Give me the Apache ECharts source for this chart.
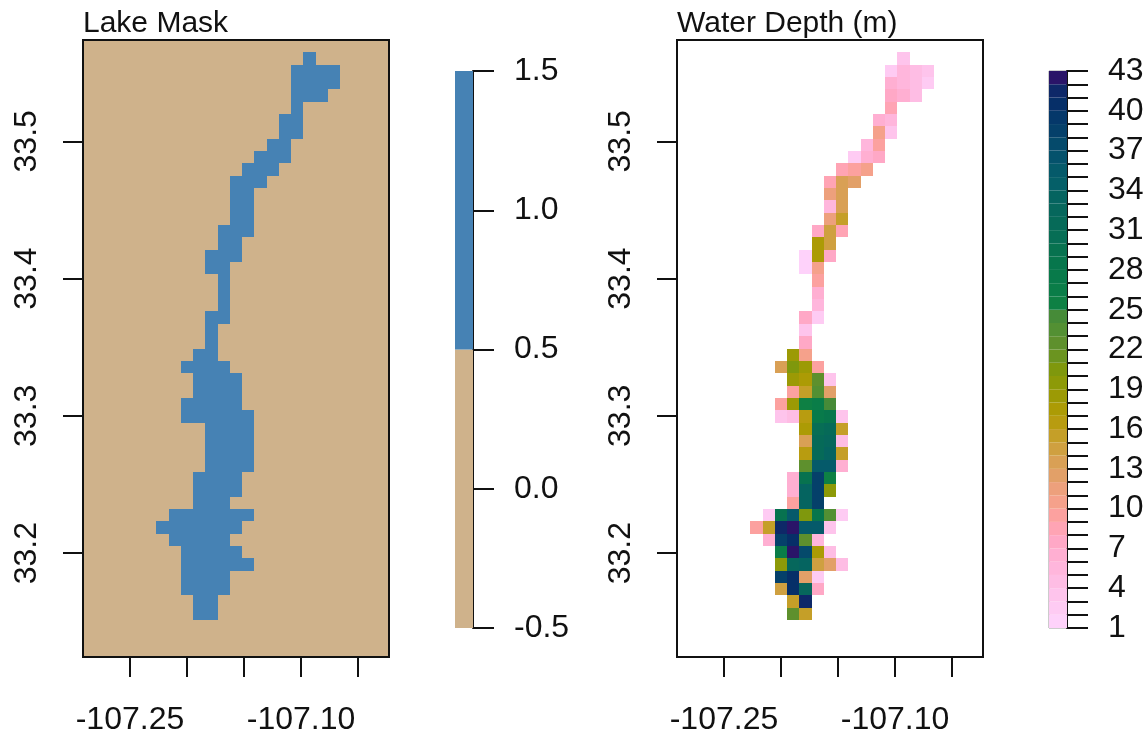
<!DOCTYPE html>
<html>
<head>
<meta charset="utf-8">
<title>Lake Mask / Water Depth</title>
<script src="https://cdn.jsdelivr.net/npm/echarts@6/dist/echarts.min.js"></script>
<style>
  html, body { margin: 0; padding: 0; background: #fff; }
  #chart { width: 1148px; height: 736px; }
</style>
</head>
<body>
<div id="chart"></div>
<script>
  // raster layout, 25 columns x 50 rows, row 0 is the north edge
  const nCols = 25
  const nRows = 50
  const lonMin = -107.2912
  const lonMax = -107.0228
  const latMin = 33.1243
  const latMax = 33.5738

  const lonTicks = [-107.25, -107.20, -107.15, -107.10, -107.05]
  const lonLabels = [-107.25, -107.10]
  const latTicks = [33.2, 33.3, 33.4, 33.5]

  // first lake column of each row, null = no lake in that row
  const firstCol = [
    null, 18, 17, 17, 17, 17, 16, 16, 15, 14,
    13, 12, 12, 12, 12, 11, 11, 10, 10, 11,
    11, 11, 10, 10, 10, 9, 8, 9, 9, 8,
    8, 10, 10, 10, 10, 9, 9, 9, 7, 6,
    7, 8, 8, 8, 8, 9, 9, null, null, null
  ]

  // water depth (m) of each row
  const depthRows = [
    [], [3], [2, 5, 4, 3], [6, 5, 4, 2], [7, 6, 4], [8], [6, 5], [10, 3], [5, 9], [2, 6, 7],
    [8, 9, 10], [8, 13, 12], [11, 13], [5, 13], [11, 15], [7, 14, 8], [17, 14], [1, 17, 7], [1, 10], [9],
    [6], [5], [7, 2], [3], [7], [18, 10], [13, 20, 18, 9], [18, 17, 22, 3], [9, 15, 23, 12], [9, 18, 25, 26, 24],
    [3, 4, 16, 27, 28, 3], [17, 30, 31, 15], [13, 31, 32, 4], [16, 31, 33, 15], [22, 35, 35, 6], [6, 29, 38, 25], [6, 33, 38, 19], [9, 33, 38], [2, 29, 35, 20, 28, 23, 2], [9, 15, 41, 42, 35, 35, 3],
    [6, 38, 40, 22, 5], [26, 42, 37, 17, 4], [19, 32, 33, 14, 12, 4], [38, 40, 12, 2], [14, 40, 32, 7], [15, 41], [22, 15], [], [], []
  ]

  // colours of the depth key, one per level from 1-2 up to 42-43
  const depthColors = [
    '#fed2fa', '#fecbf3', '#fec4ec', '#febde4', '#ffb6dc', '#ffafd2', '#ffa8c6', '#ffa4b4', '#fca19f', '#f5a18b',
    '#eda07c', '#e2a068', '#d9a055', '#cfa040', '#c59f28', '#b89c10', '#ac9b05', '#9c9a05', '#8d9a08', '#7f980d',
    '#6b9420', '#5e902d', '#539033', '#468b38', '#0e8044', '#0a7d48', '#087a4a', '#07764c', '#07724f', '#076e55',
    '#066a58', '#06675c', '#056460', '#055f68', '#055a6a', '#05526c', '#054a6b', '#05406a', '#05386a', '#062f68',
    '#0e2868', '#2a1468'
  ]
  const maskColors = ['#cfb28b', '#4682b4']
  const maskLevels = [-0.5, 0.5, 1.5]
  const depthMin = 1
  const depthMax = 43

  const fontName = 'Liberation Sans'
  const lonStep = (lonMax - lonMin) / nCols
  const latStep = (latMax - latMin) / nRows

  const depthAt = (row, col) => {
    const start = firstCol[row]
    if (start === null) return null
    const v = depthRows[row][col - start]
    return v === undefined ? null : v
  }

  // build [lon, lat, value] lists
  const maskData = []
  const depthData = []
  for (let r = 0; r < nRows; r++) {
    for (let c = 0; c < nCols; c++) {
      const lon = lonMin + (c + 0.5) * lonStep
      const lat = latMax - (r + 0.5) * latStep
      const d = depthAt(r, c)
      maskData.push([lon, lat, d === null ? 0 : 1])
      if (d !== null) depthData.push([lon, lat, d])
    }
  }

  const renderCell = (colorOf) => (params, api) => {
    const x = api.value(0)
    const y = api.value(1)
    const a = api.coord([x - lonStep / 2, y + latStep / 2])
    const b = api.coord([x + lonStep / 2, y - latStep / 2])
    const left = Math.round(a[0])
    const top = Math.round(a[1])
    return {
      type: 'rect',
      shape: { x: left, y: top, width: Math.round(b[0]) - left, height: Math.round(b[1]) - top },
      style: { fill: colorOf(api.value(2)) }
    }
  }

  const renderKey = (params, api) => {
    const a = api.coord([0, api.value(1)])
    const b = api.coord([1, api.value(0)])
    return {
      type: 'rect',
      shape: { x: a[0], y: a[1], width: b[0] - a[0], height: b[1] - a[1] },
      style: { fill: api.value(2) }
    }
  }

  const mapXAxis = (gridIndex) => ({
    type: 'value',
    gridIndex,
    min: lonMin,
    max: lonMax,
    splitLine: { show: false },
    axisLine: { show: false, onZero: false },
    axisTick: { length: 20, lineStyle: { color: '#111', width: 2 }, customValues: lonTicks },
    axisLabel: {
      customValues: lonLabels,
      margin: 47,
      fontFamily: fontName,
      fontSize: 32,
      color: '#111',
      formatter: (v) => v.toFixed(2)
    }
  })

  const mapYAxis = (gridIndex) => ({
    type: 'value',
    gridIndex,
    min: latMin,
    max: latMax,
    splitLine: { show: false },
    axisLine: { show: false, onZero: false },
    axisTick: { length: 20, lineStyle: { color: '#111', width: 2 }, customValues: latTicks },
    axisLabel: {
      customValues: latTicks,
      rotate: 90,
      margin: 40,
      fontFamily: fontName,
      fontSize: 32,
      color: '#111',
      formatter: (v) => v.toFixed(1)
    }
  })

  const keyXAxis = (gridIndex) => ({
    type: 'value',
    gridIndex,
    min: 0,
    max: 1,
    show: false
  })

  const keyYAxis = (gridIndex, min, max, interval, minor) => ({
    type: 'value',
    gridIndex,
    position: 'right',
    min,
    max,
    interval,
    splitLine: { show: false },
    minorSplitLine: { show: false },
    axisLine: { show: true, onZero: false, lineStyle: { color: '#111', width: 2 } },
    axisTick: { length: 21, lineStyle: { color: '#111', width: 2 } },
    minorTick: { show: minor > 0, splitNumber: minor || 5, length: 21, lineStyle: { color: '#111', width: 2 } },
    axisLabel: {
      margin: 41,
      fontFamily: fontName,
      fontSize: 32,
      color: '#111',
      showMinLabel: true,
      showMaxLabel: true,
      formatter: (v) => (minor > 0 ? String(v) : v.toFixed(1))
    }
  })

  const maskKeyData = maskColors.map((color, i) => [maskLevels[i], maskLevels[i + 1], color])
  const depthKeyData = depthColors.map((color, i) => [depthMin + i, depthMin + i + 1, color])

  const chart = echarts.init(document.getElementById('chart'), null, { renderer: 'canvas' })
  chart.setOption({
    animation: false,
    backgroundColor: '#fff',
    textStyle: { fontFamily: fontName },
    title: [
      { text: 'Lake Mask', left: 83, top: 9, padding: 0, textStyle: { fontFamily: fontName, fontSize: 30, fontWeight: 'normal', color: '#111' } },
      { text: 'Water Depth (m)', left: 677, top: 9, padding: 0, textStyle: { fontFamily: fontName, fontSize: 30, fontWeight: 'normal', color: '#111' } }
    ],
    grid: [
      { left: 83, top: 40, width: 306, height: 619, show: true, z: 5, backgroundColor: 'transparent', borderColor: '#111', borderWidth: 2 },
      { left: 677, top: 40, width: 306, height: 619, show: true, z: 5, backgroundColor: 'transparent', borderColor: '#111', borderWidth: 2 },
      { left: 455, top: 71, width: 18, height: 557 },
      { left: 1049, top: 71, width: 18, height: 557, show: true, borderColor: '#999', borderWidth: 1 }
    ],
    xAxis: [mapXAxis(0), mapXAxis(1), keyXAxis(2), keyXAxis(3)],
    yAxis: [
      mapYAxis(0),
      mapYAxis(1),
      keyYAxis(2, maskLevels[0], maskLevels[2], 0.5, 0),
      keyYAxis(3, depthMin, depthMax, 3, 3)
    ],
    series: [
      { type: 'custom', xAxisIndex: 0, yAxisIndex: 0, z: 1, silent: true, clip: false, data: maskData, renderItem: renderCell((v) => maskColors[v]) },
      { type: 'custom', xAxisIndex: 1, yAxisIndex: 1, z: 1, silent: true, clip: false, data: depthData, renderItem: renderCell((v) => depthColors[v - depthMin]) },
      { type: 'custom', xAxisIndex: 2, yAxisIndex: 2, z: 1, silent: true, clip: false, data: maskKeyData, renderItem: renderKey },
      { type: 'custom', xAxisIndex: 3, yAxisIndex: 3, z: 1, silent: true, clip: false, data: depthKeyData, renderItem: renderKey }
    ]
  })
</script>
</body>
</html>
